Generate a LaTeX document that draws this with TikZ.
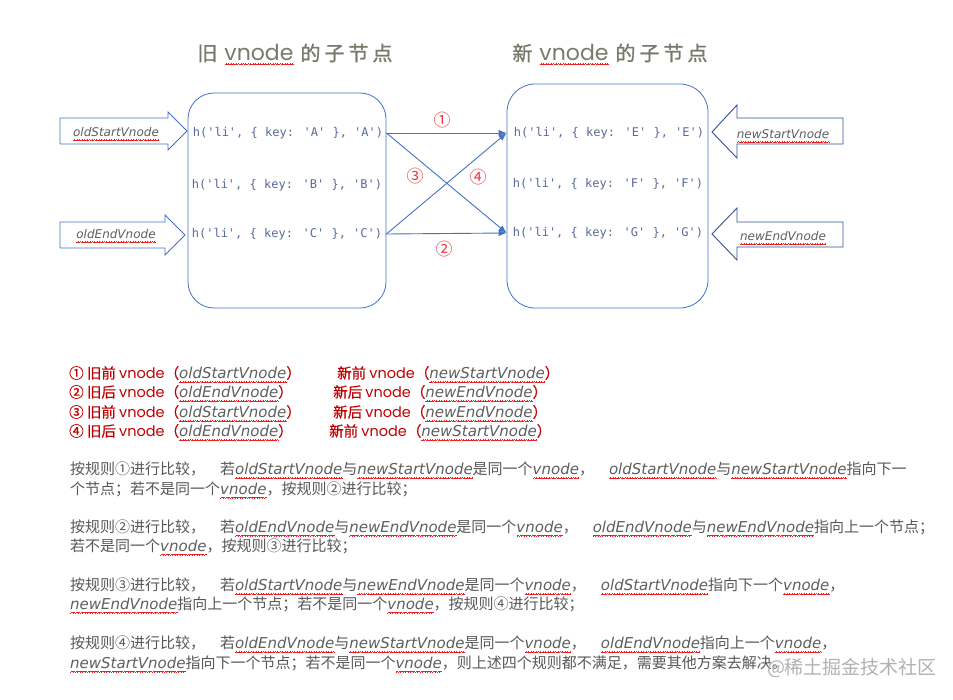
\documentclass[tikz,border=0pt]{standalone}
\usepackage{fontspec}
\usetikzlibrary{arrows.meta}
\setmainfont{Noto Sans CJK SC}
\newfontfamily\nmfont{DejaVu Sans}
\newfontfamily\codefont{DejaVu Sans Mono}
\newfontfamily\titlelat{Poppins}
\newfontfamily\titlecjk{Noto Sans CJK SC}[FakeBold=1.2]
\newfontfamily\legcjk{Noto Sans CJK SC}[FakeBold=0.6]
\newfontfamily\wmfont{Noto Sans CJK SC}
\definecolor{lineblue}{HTML}{4472C4}
\definecolor{navyblue}{HTML}{2F5496}
\definecolor{codecol}{HTML}{5B6B99}
\definecolor{titlegray}{HTML}{7A7A6C}
\definecolor{legred}{HTML}{C00000}
\definecolor{numred}{HTML}{E8383D}
\definecolor{namegray}{HTML}{5F5F5F}
\definecolor{paragray}{HTML}{585858}
\definecolor{wavered}{HTML}{F02020}
\newsavebox\wavebox
\newcommand\rwave[1]{\sbox\wavebox{#1}\rlap{\raisebox{0pt}[0pt][0pt]{\hbox to \wd\wavebox{\color{wavered}\xleaders\hbox{\rule[-4.0pt]{0.6pt}{0.55pt}\rule[-3.6pt]{0.6pt}{0.55pt}\rule[-3.2pt]{0.6pt}{0.55pt}\rule[-3.6pt]{0.6pt}{0.55pt}}\hfill}}}\usebox\wavebox}
\newcommand\nm[1]{{\nmfont\itshape\color{namegray}\rwave{#1}}}
\newcommand\q{\textquotesingle}
\newcommand\gap{\hspace{1.0em}}
\tikzset{
  boxstyle/.style={draw=lineblue, line width=0.8pt, inner sep=0pt},
  codetext/.style={text=codecol, font=\codefont\fontsize{12}{14}\selectfont, inner sep=0pt},
  inarrow/.style={draw=lineblue, line width=0.9pt, fill=white},
  outarrow/.style={draw=navyblue, line width=0.9pt, fill=white},
  arrowlabel/.style={font=\fontsize{12}{14}\selectfont, inner sep=0pt},
  conn/.style={draw=lineblue, line width=0.9pt, -{Latex[length=8pt,width=6.5pt]}},
  numlabel/.style={text=numred, font=\fontsize{17}{19}\selectfont, inner sep=0pt},
  titletext/.style={text=titlegray, font=\titlecjk\fontsize{20}{23}\selectfont, inner sep=0pt},
  legendtext/.style={text=legred, font=\legcjk\fontsize{14.5}{16}\selectfont, anchor=west, inner sep=0pt},
  paratext/.style={text=paragray, font=\fontsize{15}{17}\selectfont, anchor=west, inner sep=0pt}
}
\begin{document}
\begin{tikzpicture}[x=1pt,y=-1pt]
\useasboundingbox (0,0) rectangle (953,699);
\fill[white] (0,0) rectangle (953,699);

% titles
\node[titletext] (t1) at (295,53) {旧\kern7pt{\titlelat\fontsize{22}{24}\selectfont\rwave{vnode}}\kern7pt 的\kern4pt 子\kern4pt 节\kern4pt 点};
\node[titletext] (t2) at (610,53) {新\kern7pt{\titlelat\fontsize{22}{24}\selectfont\rwave{vnode}}\kern7pt 的\kern4pt 子\kern4pt 节\kern4pt 点};

% boxes
\node[boxstyle, rounded corners=26pt, minimum width=198pt, minimum height=215pt] (oldbox) at (287,200.5) {};
\node[boxstyle, rounded corners=28pt, minimum width=201pt, minimum height=224pt] (newbox) at (607.5,196) {};

% code texts
\node[codetext] (a) at (288,133) {h(\q li\q, \{ key: \q A\q\ \}, \q A\q)};
\node[codetext] (b) at (287,185) {h(\q li\q, \{ key: \q B\q\ \}, \q B\q)};
\node[codetext] (c) at (287,234) {h(\q li\q, \{ key: \q C\q\ \}, \q C\q)};
\node[codetext] (e) at (609,133) {h(\q li\q, \{ key: \q E\q\ \}, \q E\q)};
\node[codetext] (f) at (608,184) {h(\q li\q, \{ key: \q F\q\ \}, \q F\q)};
\node[codetext] (g) at (608,233) {h(\q li\q, \{ key: \q G\q\ \}, \q G\q)};

% block arrows (left, pointing right)
\draw[inarrow] (60,118) -- (168,118) -- (168,112) -- (187,131) -- (168,150) -- (168,144) -- (60,144) -- cycle;
\draw[inarrow] (60,222) -- (165,222) -- (165,215) -- (185,235) -- (165,255) -- (165,248) -- (60,248) -- cycle;
% block arrows (right, pointing left)
\draw[outarrow] (843,118) -- (737,118) -- (737,105) -- (712,132) -- (737,158) -- (737,144) -- (843,144) -- cycle;
\draw[outarrow] (843,222) -- (737,222) -- (737,208) -- (712,234) -- (737,260) -- (737,247) -- (843,247) -- cycle;

\node[arrowlabel] (osv) at (116,132) {\nm{oldStartVnode}};
\node[arrowlabel] (oev) at (116,234) {\nm{oldEndVnode}};
\node[arrowlabel] (nsv) at (783,134) {\nm{newStartVnode}};
\node[arrowlabel] (nev) at (783,236) {\nm{newEndVnode}};

% connectors
\draw[conn] (oldbox.east |- a) -- (newbox.west |- e);
\draw[conn] (oldbox.east |- c) -- (newbox.west |- g);
\draw[conn] (oldbox.east |- a) -- (newbox.west |- g);
\draw[conn] (oldbox.east |- c) -- (newbox.west |- e);

\node[numlabel] (n1) at (442,120) {①};
\node[numlabel] (n2) at (444,249) {②};
\node[numlabel] (n3) at (415,176) {③};
\node[numlabel] (n4) at (478,177) {④};

% legend
\node[legendtext] (l1a) at (69,373) {① 旧前 {\titlelat vnode}（{\fontsize{15}{16}\selectfont\nm{oldStartVnode}}）};
\node[legendtext] (l1b) at (337,373) {新前 {\titlelat vnode}（{\fontsize{15}{16}\selectfont\nm{newStartVnode}}）};
\node[legendtext] (l2a) at (69,392) {② 旧后 {\titlelat vnode}（{\fontsize{15}{16}\selectfont\nm{oldEndVnode}}）};
\node[legendtext] (l2b) at (333,392) {新后 {\titlelat vnode}（{\fontsize{15}{16}\selectfont\nm{newEndVnode}}）};
\node[legendtext] (l3a) at (69,412) {③ 旧前 {\titlelat vnode}（{\fontsize{15}{16}\selectfont\nm{oldStartVnode}}）};
\node[legendtext] (l3b) at (333,412) {新后 {\titlelat vnode}（{\fontsize{15}{16}\selectfont\nm{newEndVnode}}）};
\node[legendtext] (l4a) at (69,431) {④ 旧后 {\titlelat vnode}（{\fontsize{15}{16}\selectfont\nm{oldEndVnode}}）};
\node[legendtext] (l4b) at (329,431) {新前 {\titlelat vnode}（{\fontsize{15}{16}\selectfont\nm{newStartVnode}}）};

% paragraphs
\node[paratext] (p1a) at (70,469) {按规则①进行比较，\gap 若\nm{oldStartVnode}与\nm{newStartVnode}是同一个\nm{vnode}，\gap\nm{oldStartVnode}与\nm{newStartVnode}指向下一};
\node[paratext] (p1b) at (70,489) {个节点；若不是同一个\nm{vnode}，按规则②进行比较；};
\node[paratext] (p2a) at (70,527) {按规则②进行比较，\gap 若\nm{oldEndVnode}与\nm{newEndVnode}是同一个\nm{vnode}，\gap\nm{oldEndVnode}与\nm{newEndVnode}指向上一个节点；};
\node[paratext] (p2b) at (70,546) {若不是同一个\nm{vnode}，按规则③进行比较；};
\node[paratext] (p3a) at (70,585) {按规则③进行比较，\gap 若\nm{oldStartVnode}与\nm{newEndVnode}是同一个\nm{vnode}，\gap\nm{oldStartVnode}指向下一个\nm{vnode}，};
\node[paratext] (p3b) at (70,604) {\nm{newEndVnode}指向上一个节点；若不是同一个\nm{vnode}，按规则④进行比较；};
\node[paratext] (p4a) at (70,643) {按规则④进行比较，\gap 若\nm{oldEndVnode}与\nm{newStartVnode}是同一个\nm{vnode}，\gap\nm{oldEndVnode}指向上一个\nm{vnode}，};
\node[paratext] (p4b) at (70,663) {\nm{newStartVnode}指向下一个节点；若不是同一个\nm{vnode}，则上述四个规则都不满足，需要其他方案去解决。};

% watermark
\node[text=black!30, font=\wmfont\fontsize{19}{21}\selectfont, inner sep=0pt] (wm) at (852,668) {@稀土掘金技术社区};
\end{tikzpicture}
\end{document}
